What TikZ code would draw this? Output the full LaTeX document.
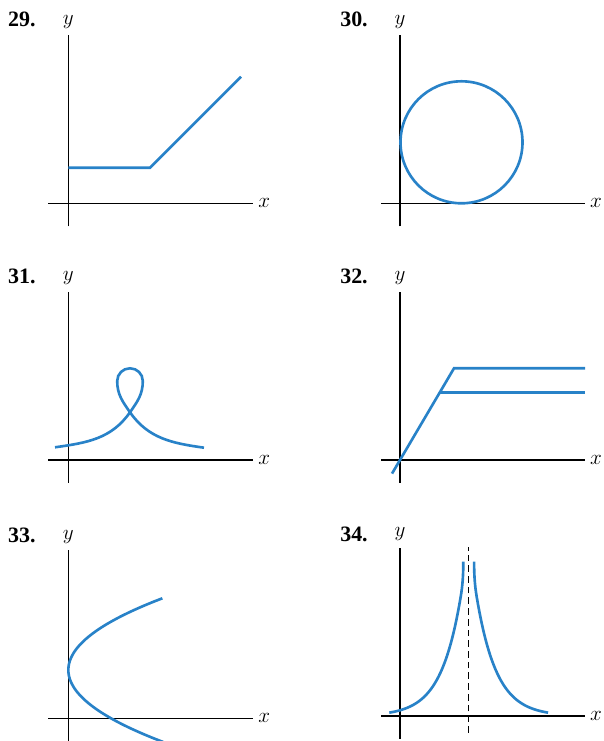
\documentclass[tikz,border=0pt]{standalone}
\usepackage{fontspec}
\newfontfamily\numfont{Liberation Serif}
\usetikzlibrary{calc}
\definecolor{graphblue}{RGB}{40,130,200}
\tikzset{
  axis/.style={line width=0.6pt},
  graph/.style={graphblue,line width=1.5pt},
  num/.style={anchor=base,inner sep=0pt,font=\numfont\bfseries\fontsize{12.5}{14}\selectfont},
  lab/.style={anchor=base,inner sep=0pt,font=\fontsize{12.5}{14}\selectfont}
}

\begin{document}
\begin{tikzpicture}[x=0.02cm,y=0.02cm]
    \useasboundingbox (0,0) rectangle (604,741);
    \begin{scope}[shift={(68.3,537.7)}]
        \node [num] (n29) at (-46.5,176.6) {29.};
        \draw [axis] (-20,0) -- (185,0);
        \draw [axis] (0,-23) -- (0,168);
        \node [lab] (x29) at (196,-4.5) {$x$};
        \node [lab] (y29) at (0,179) {$y$};
        \draw [graph] (0,35.6) -- (81.7,35.6) -- (172.7,126.6);
    \end{scope}
    \begin{scope}[shift={(400,537.7)}]
        \node [num] (n30) at (-46,176.6) {30.};
        \draw [axis] (-19,0) -- (185,0);
        \draw [axis] (0,-23) -- (0,168);
        \node [lab] (x30) at (196,-4.5) {$x$};
        \node [lab] (y30) at (0,179) {$y$};
        \draw [graph] (61.5,61) circle (61);
    \end{scope}
    \begin{scope}[shift={(68.3,281)}]
        \node [num] (n31) at (-46.5,176) {31.};
        \draw [axis] (-20,0) -- (185,0);
        \draw [axis] (0,-23) -- (0,168);
        \node [lab] (x31) at (196,-4.5) {$x$};
        \node [lab] (y31) at (0,179) {$y$};
        \coordinate (K) at (61.7,47.7);
        \draw [graph] (-13.3,12.7) to[out=8,in=-125] (K)
            to[out=55,in=-90] (74.5,79) to[out=90,in=0] (61.7,91.7)
            to[out=180,in=90] (48.9,79) to[out=-90,in=125] (K)
            to[out=-55,in=172] (135.7,12.3);
    \end{scope}
    \begin{scope}[shift={(400,281)}]
        \node [num] (n32) at (-46,176) {32.};
        \draw [axis] (-19,0) -- (185,0);
        \draw [axis] (0,-23) -- (0,168);
        \node [lab] (x32) at (196,-4.5) {$x$};
        \node [lab] (y32) at (0,179) {$y$};
        \draw [graph] (-8,-13.6) -- (54,91.7) -- (185,91.7);
        \draw [graph] (39.9,67.7) -- (185,67.7);
    \end{scope}
    \begin{scope}[shift={(68.3,22.7)}]
        \node [num] (n33) at (-46.5,176) {33.};
        \draw [axis] (-20,0) -- (185,0);
        \draw [axis] (0,-23) -- (0,168);
        \node [lab] (x33) at (196,-4.5) {$x$};
        \node [lab] (y33) at (0,179) {$y$};
        \draw [graph] plot[domain=-72:71.7,smooth,samples=40] ({0.0183*\x*\x},{48.3+\x});
    \end{scope}
    \begin{scope}[shift={(400,25)}]
        \node [num] (n34) at (-46,174) {34.};
        \draw [axis] (-19,0) -- (185,0);
        \draw [axis] (0,-23) -- (0,168);
        \node [lab] (x34) at (196,-4.5) {$x$};
        \node [lab] (y34) at (0,179) {$y$};
        \draw [axis,dash pattern=on 3.8pt off 2.3pt] (68.8,-16.7) -- (68.8,169.3);
        \draw [graph] plot[domain=-10.7:60.7,samples=50,smooth] (\x,{177.8*exp(-0.05*(68.7-\x))})
            .. controls (62.7,131) and (63.3,142) .. (63.3,154.3);
        \draw [graph] (74.1,154.3) .. controls (74.1,142) and (74.7,131) .. (76.7,119.2)
            -- plot[domain=76.7:148.1,samples=50,smooth] (\x,{177.8*exp(-0.05*(\x-68.7))});
    \end{scope}
\end{tikzpicture}
\end{document}
